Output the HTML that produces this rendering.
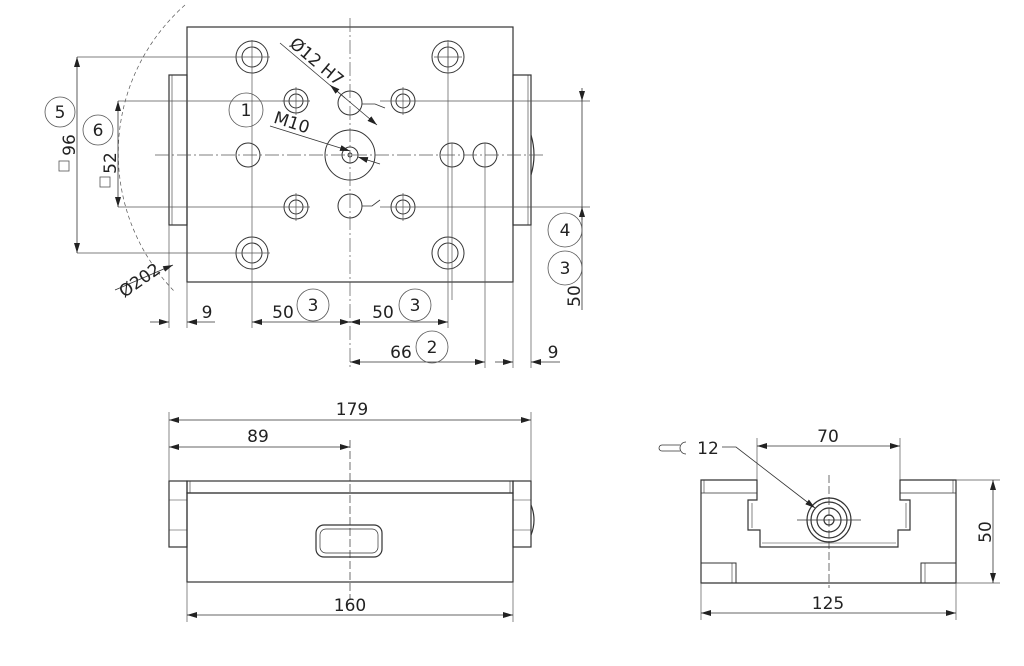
<!DOCTYPE html>
<html><head><meta charset="utf-8"><style>html,body{margin:0;padding:0;background:#fff}svg{display:block}text{font-family:"DejaVu Sans","Liberation Sans",sans-serif;font-size:17px;fill:#222}</style></head><body>
<svg width="1024" height="666" viewBox="0 0 1024 666" xmlns="http://www.w3.org/2000/svg">
<defs><marker id="a" markerWidth="10" markerHeight="6" refX="10" refY="3" orient="auto-start-reverse" markerUnits="userSpaceOnUse"><path d="M0,0 L10,3 L0,6z" fill="#222"/></marker></defs>
<g fill="none" stroke="#333" stroke-width="1.2">
<rect x="187" y="27" width="326" height="255"/>
<rect x="169" y="75" width="18" height="150"/><line x1="172" y1="75" x2="172" y2="225" stroke-width=".6"/>
<rect x="513" y="75" width="18" height="150"/><line x1="528" y1="75" x2="528" y2="225" stroke-width=".6"/>
<path d="M531,135 Q537,155 531,175"/>
<g stroke-width="1">
<circle cx="252" cy="57" r="16"/><circle cx="252" cy="57" r="10"/>
<circle cx="448" cy="57" r="16"/><circle cx="448" cy="57" r="10"/>
<circle cx="252" cy="253" r="16"/><circle cx="252" cy="253" r="10"/>
<circle cx="448" cy="253" r="16"/><circle cx="448" cy="253" r="10"/>
<circle cx="296" cy="101" r="12"/><circle cx="296" cy="101" r="7"/>
<circle cx="403" cy="101" r="12"/><circle cx="403" cy="101" r="7"/>
<circle cx="296" cy="207" r="12"/><circle cx="296" cy="207" r="7"/>
<circle cx="403" cy="207" r="12"/><circle cx="403" cy="207" r="7"/>
<circle cx="350" cy="103" r="12"/><circle cx="350" cy="206" r="12"/>
<circle cx="248" cy="155" r="12"/><circle cx="452" cy="155" r="12"/><circle cx="485" cy="155" r="12"/>
<circle cx="350" cy="155" r="25"/><circle cx="350" cy="155" r="8"/><circle cx="350" cy="155" r="2"/>
</g>
<g stroke-width=".7" stroke="#555">
<line x1="350" y1="18" x2="350" y2="368" stroke-dasharray="14,3,2,3"/>
<line x1="155" y1="155" x2="545" y2="155" stroke-dasharray="14,3,2,3"/>
<line x1="77" y1="57" x2="270" y2="57"/><line x1="77" y1="253" x2="270" y2="253"/>
<line x1="118" y1="101" x2="310" y2="101"/><line x1="118" y1="207" x2="310" y2="207"/>
<line x1="380" y1="101" x2="590" y2="101"/><line x1="380" y1="207" x2="590" y2="207"/>
<line x1="252" y1="40" x2="252" y2="328"/><line x1="448" y1="40" x2="448" y2="328"/>
<line x1="485" y1="143" x2="485" y2="368"/><line x1="452" y1="143" x2="452" y2="300"/>
<line x1="169" y1="225" x2="169" y2="328"/><line x1="187" y1="282" x2="187" y2="328"/>
<line x1="513" y1="282" x2="513" y2="368"/><line x1="531" y1="225" x2="531" y2="368"/>
<line x1="434" y1="57" x2="462" y2="57"/><line x1="448" y1="43" x2="448" y2="71"/>
<line x1="282" y1="101" x2="310" y2="101"/><line x1="296" y1="87" x2="296" y2="115"/>
<line x1="403" y1="87" x2="403" y2="115"/><line x1="403" y1="193" x2="403" y2="221"/><line x1="296" y1="193" x2="296" y2="221"/>
<path d="M185,5 A198,198 0 0 0 175,292" stroke-dasharray="4,3"/>
</g>
<g stroke-width=".8">
<line x1="77" y1="57" x2="77" y2="253" marker-start="url(#a)" marker-end="url(#a)"/>
<line x1="118" y1="101" x2="118" y2="207" marker-start="url(#a)" marker-end="url(#a)"/>
<line x1="582" y1="88" x2="582" y2="101" marker-end="url(#a)"/><line x1="582" y1="101" x2="582" y2="310"/><line x1="582" y1="220" x2="582" y2="207" marker-end="url(#a)"/>
<line x1="150" y1="322" x2="169" y2="322" marker-end="url(#a)"/><line x1="215" y1="322" x2="187" y2="322" marker-end="url(#a)"/>
<line x1="252" y1="322" x2="350" y2="322" marker-start="url(#a)" marker-end="url(#a)"/>
<line x1="350" y1="322" x2="448" y2="322" marker-start="url(#a)" marker-end="url(#a)"/>
<line x1="350" y1="362" x2="485" y2="362" marker-start="url(#a)" marker-end="url(#a)"/>
<line x1="495" y1="362" x2="513" y2="362" marker-end="url(#a)"/><line x1="560" y1="362" x2="531" y2="362" marker-end="url(#a)"/>
<line x1="280" y1="43" x2="377" y2="125" marker-end="url(#a)"/><line x1="345" y1="98" x2="330" y2="85" marker-end="url(#a)"/>
<line x1="270" y1="126" x2="350" y2="151" marker-end="url(#a)"/><line x1="380" y1="164" x2="358" y2="157" marker-end="url(#a)"/>
<line x1="115" y1="290" x2="173" y2="265" marker-end="url(#a)"/>
<path d="M362,104 L375,104 L385,108"/><path d="M362,206 L372,206 L380,200"/>
</g>
<g stroke-width=".8" stroke="#555"><circle cx="60" cy="112" r="15"/><circle cx="98" cy="130" r="15"/><circle cx="246" cy="110" r="17"/><circle cx="565" cy="230" r="17"/><circle cx="565" cy="268" r="17"/><circle cx="313" cy="305" r="16"/><circle cx="415" cy="305" r="16"/><circle cx="432" cy="347" r="16"/>
<rect x="59" y="161" width="10" height="10"/><rect x="100" y="177" width="10" height="10"/></g>
<rect x="187" y="493" width="326" height="89"/>
<rect x="187" y="481" width="326" height="12"/><line x1="190" y1="481" x2="190" y2="493" stroke-width=".6"/><line x1="510" y1="481" x2="510" y2="493" stroke-width=".6"/>
<rect x="169" y="481" width="18" height="66"/><line x1="169" y1="500" x2="187" y2="500" stroke-width=".6"/><line x1="169" y1="530" x2="187" y2="530" stroke-width=".6"/>
<rect x="513" y="481" width="18" height="66"/><line x1="513" y1="500" x2="531" y2="500" stroke-width=".6"/><line x1="513" y1="530" x2="531" y2="530" stroke-width=".6"/>
<path d="M531,505 Q537,520 531,535"/>
<rect x="316" y="525" width="66" height="32" rx="8"/><rect x="320" y="529" width="58" height="24" rx="6" stroke-width=".7"/>
<line x1="350" y1="440" x2="350" y2="600" stroke-width=".7" stroke-dasharray="8,3"/>
<g stroke-width=".7" stroke="#555"><line x1="169" y1="412" x2="169" y2="481"/><line x1="531" y1="412" x2="531" y2="481"/><line x1="187" y1="582" x2="187" y2="622"/><line x1="513" y1="582" x2="513" y2="622"/></g>
<g stroke-width=".8"><line x1="169" y1="420" x2="531" y2="420" marker-start="url(#a)" marker-end="url(#a)"/>
<line x1="169" y1="447" x2="350" y2="447" marker-start="url(#a)" marker-end="url(#a)"/>
<line x1="187" y1="615" x2="513" y2="615" marker-start="url(#a)" marker-end="url(#a)"/></g>
<path d="M701,480 L701,583 L956,583 L956,480 L900,480 L900,500 L910,500 L910,530 L898,530 L898,547 L760,547 L760,530 L748,530 L748,500 L757,500 L757,480 Z"/>
<line x1="701" y1="493" x2="757" y2="493" stroke-width=".8"/><line x1="900" y1="493" x2="956" y2="493" stroke-width=".8"/>
<line x1="704" y1="480" x2="704" y2="493" stroke-width=".6"/><line x1="953" y1="480" x2="953" y2="493" stroke-width=".6"/>
<path d="M752,503 L752,528 M762,543 L896,543 M906,503 L906,528" stroke-width=".6"/>
<path d="M701,563 L736,563 L736,583 M956,563 L921,563 L921,583" stroke-width="1"/><line x1="732" y1="563" x2="732" y2="583" stroke-width=".6"/><line x1="925" y1="563" x2="925" y2="583" stroke-width=".6"/>
<circle cx="829" cy="520" r="22"/><circle cx="829" cy="520" r="18"/><circle cx="829" cy="520" r="12"/><circle cx="829" cy="520" r="5"/>
<line x1="829" y1="475" x2="829" y2="588" stroke-width=".7" stroke-dasharray="8,3"/><line x1="797" y1="520" x2="861" y2="520" stroke-width=".7"/>
<g stroke-width=".7" stroke="#555"><line x1="757" y1="438" x2="757" y2="480"/><line x1="900" y1="438" x2="900" y2="480"/><line x1="956" y1="480" x2="1000" y2="480"/><line x1="956" y1="583" x2="1000" y2="583"/><line x1="701" y1="583" x2="701" y2="620"/><line x1="956" y1="583" x2="956" y2="620"/></g>
<g stroke-width=".8"><line x1="757" y1="446" x2="900" y2="446" marker-start="url(#a)" marker-end="url(#a)"/>
<line x1="993" y1="480" x2="993" y2="583" marker-start="url(#a)" marker-end="url(#a)"/>
<line x1="701" y1="613" x2="956" y2="613" marker-start="url(#a)" marker-end="url(#a)"/>
<path d="M722,447 L736,447 L815,508" marker-end="url(#a)"/>
<path d="M662,445 L680,445 M662,451 L680,451 M662,445 A3,3 0 0 0 662,451 M686,442 A6,6 0 1 0 686,454"/></g>
</g>
<g>
<text x="246" y="116" text-anchor="middle">1</text>
<text x="60" y="118" text-anchor="middle">5</text><text x="98" y="136" text-anchor="middle">6</text>
<text x="565" y="236" text-anchor="middle">4</text><text x="565" y="274" text-anchor="middle">3</text>
<text x="313" y="311" text-anchor="middle">3</text><text x="415" y="311" text-anchor="middle">3</text><text x="432" y="353" text-anchor="middle">2</text>
<text transform="translate(75,145) rotate(-90)" text-anchor="middle">96</text>
<text transform="translate(116,163) rotate(-90)" text-anchor="middle">52</text>
<text transform="translate(580,296) rotate(-90)" text-anchor="middle">50</text>
<text transform="translate(143,285) rotate(-35)" text-anchor="middle">Ø202</text>
<text transform="translate(313,66) rotate(40)" text-anchor="middle">Ø12 H7</text>
<text transform="translate(290,128) rotate(18)" text-anchor="middle">M10</text>
<text x="207" y="318" text-anchor="middle">9</text>
<text x="283" y="318" text-anchor="middle">50</text><text x="383" y="318" text-anchor="middle">50</text>
<text x="401" y="358" text-anchor="middle">66</text><text x="553" y="358" text-anchor="middle">9</text>
<text x="352" y="415" text-anchor="middle">179</text><text x="258" y="442" text-anchor="middle">89</text><text x="350" y="611" text-anchor="middle">160</text>
<text x="828" y="442" text-anchor="middle">70</text><text x="828" y="609" text-anchor="middle">125</text><text x="708" y="454" text-anchor="middle">12</text>
<text transform="translate(991,532) rotate(-90)" text-anchor="middle">50</text>
</g>
</svg>
</body></html>
